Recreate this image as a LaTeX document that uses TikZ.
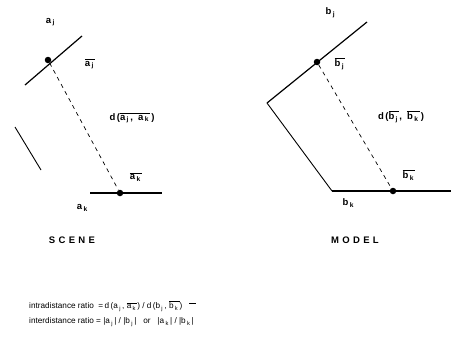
\documentclass[tikz,border=0pt]{standalone}
\usepackage{fontspec}
\setmainfont{Liberation Sans}
\newfontfamily\spacedfont[LetterSpace=35]{Liberation Sans Bold}
\newfontfamily\lblfont{Liberation Sans Bold}
\newcommand{\ol}[1]{$\overline{\hbox{#1}}$}
\newcommand{\sub}[2]{#1\kern1.4pt\textsubscript{#2}\kern1.2pt}
\begin{document}
\begin{tikzpicture}[x=1pt,y=-1pt,
  lbl/.style={font=\lblfont\fontsize{9.5}{10}\selectfont, inner sep=1pt},
  seg/.style={line width=1.2pt},
  thinseg/.style={line width=0.9pt},
  dist/.style={dashed, dash pattern=on 4pt off 4pt, line width=0.7pt},
  pt/.style={circle, fill=black, inner sep=0pt, minimum size=6.5pt},
  title/.style={font=\spacedfont\fontsize{9.5}{10}\selectfont},
  formula/.style={font=\fontsize{8.2}{9}\selectfont, anchor=west, inner sep=0pt}]
\useasboundingbox (0,0) rectangle (451,340);
% ---------- SCENE ----------
\coordinate (s1a) at (25,85);
\coordinate (s1b) at (82,36);
\coordinate (s2a) at (15,127);
\coordinate (s2b) at (41,170);
\coordinate (s3a) at (90,193);
\coordinate (s3b) at (162,193);
\node[pt] (aj) at (48,60) {};
\node[pt] (ak) at (120,193) {};
\draw[seg] (s1a) -- (s1b);
\draw[thinseg] (s2a) -- (s2b);
\draw[seg] (s3a) -- (s3b);
\draw[dist] (aj) -- (ak);
\node[lbl] (ajl) at (51,22) {\sub{a}{j}};
\node[lbl] (ajb) at (90,64) {\ol{\sub{a}{j}}};
\node[lbl] (akb) at (136,177) {\ol{\sub{a}{k}}};
\node[lbl] (akl) at (83,208) {\sub{a}{k}};
\node[lbl] (dA) at (132,118) {d\kern1.5pt(\ol{\sub{a}{j},\ \ \sub{a}{k}}\kern1pt)};
\node[title] (scene) at (72,240) {SCENE};
% ---------- MODEL ----------
\coordinate (m1a) at (367,22);
\coordinate (mc) at (267,103);
\coordinate (m2b) at (332,191);
\coordinate (m3b) at (451,191);
\node[pt] (bj) at (317,62) {};
\node[pt] (bk) at (393,191) {};
\draw[seg] (m1a) -- (mc);
\draw[thinseg] (mc) -- (m2b);
\draw[seg] (m2b) -- (m3b);
\draw[dist] (bj) -- (bk);
\node[lbl] (bjl) at (331,13) {\sub{b}{j}};
\node[lbl] (bjb) at (340,64) {\ol{\sub{b}{j}}};
\node[lbl] (bkb) at (409,175) {\ol{\sub{b}{k}}};
\node[lbl] (bkl) at (349,203) {\sub{b}{k}};
\node[lbl] (dB) at (401,117) {d\kern1.5pt(\ol{\sub{b}{j}},\ \ \ol{\sub{b}{k}}\kern1pt)};
\node[title] (model) at (355,240) {MODEL};
% ---------- formulas ----------
\node[formula] (intra) at (29,306) {intradistance ratio\ \ =\,d\,(\sub{a}{j}, \ol{\sub{a}{k}})\ /\ d\,(\sub{b}{j}, \ol{\sub{b}{k}})\ \ \ \raisebox{1.1ex}{\rule{7pt}{0.6pt}}};
\node[formula] (inter) at (29,322) {interdistance ratio\ =\ |\sub{a}{j}|\ /\ |\sub{b}{j}|\ \ \ or\ \ \ |\sub{a}{k}|\ /\ |\sub{b}{k}|};
\end{tikzpicture}
\end{document}
